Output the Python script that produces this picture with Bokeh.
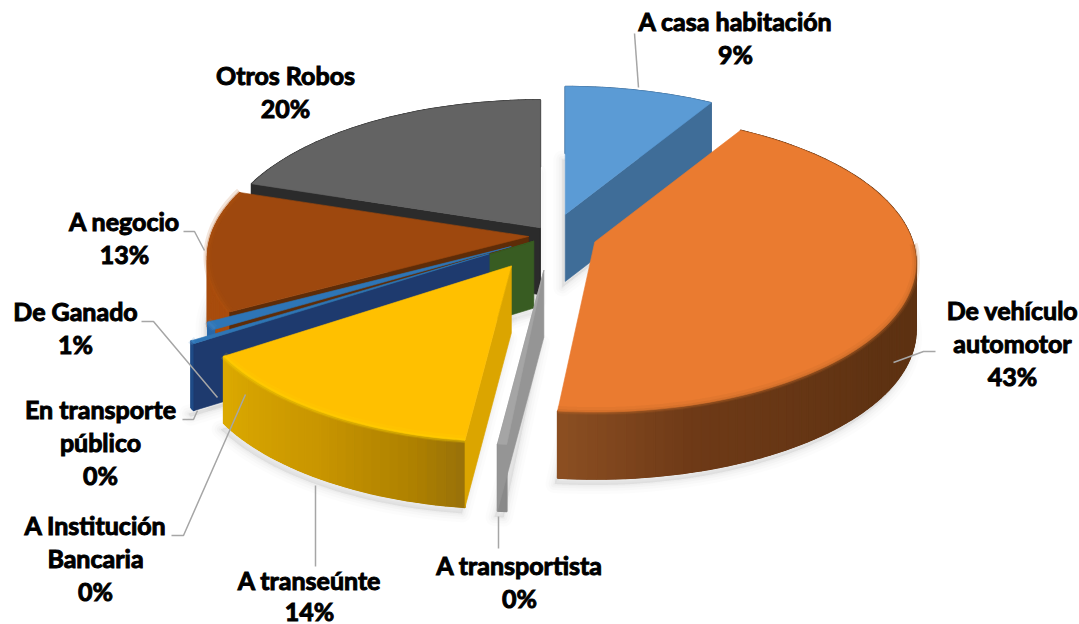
import math
from bokeh.plotting import figure
from bokeh.models import Range1d, ColumnDataSource
from bokeh.core.properties import value
from bokeh.embed import file_html
from bokeh.resources import INLINE

# ---------- data ----------
categories = ["A casa habitación", "De vehículo automotor", "A transportista", "A transeúnte",
              "A Institución Bancaria", "En transporte público", "De Ganado", "A negocio", "Otros Robos"]
shares = [8.6, 43.0, 0.4, 13.7, 0.2, 0.3, 0.8, 13.1, 19.9]
label_lines = [["A casa habitación", "9%"], ["De vehículo", "automotor", "43%"], ["A transportista", "0%"],
               ["A transeúnte", "14%"], ["A Institución", "Bancaria", "0%"], ["En transporte", "público", "0%"],
               ["De Ganado", "1%"], ["A negocio", "13%"], ["Otros Robos", "20%"]]

# ---------- layout and style ----------
W, H = 1079, 624
CX, CY, A, B, K, DEPTH = 552, 235, 318, 146, 0.142, 67
explode = [0.15, 0.14, 0.24, 0.245, 0.07, 0.235, 0.15, 0.075, 0.065]
gain_y = [1, 1, 1.03, 1.035, 1, 1.05, 1, 1, 1]
gain_x = [1, 1, 1, 1.0, 1, 1.02, 1.015, 1, 1]
top_col = ["#5b9bd5", "#ea7b30", "#a5a5a5", "#ffc000", "#385c22", "#2e75b6", "#2e75b6", "#9e480e", "#636363"]
rad_col = ["#3f6d98", "#5e3212", "#959595", "#dba500", "#385c22", "#1e3a6e", "#2e75b6", "#5e2c08", "#2b2b2b"]
side_stops = [
    [(0, "#3f6d98"), (40, "#3f6d98")],
    [(30, "#5e3212"), (125, "#5e3212"), (165, "#6e3a17"), (186, "#8c4f22")],
    [(180, "#8a8a8a"), (190, "#8a8a8a")],
    [(187, "#97700a"), (195, "#ad8000"), (212, "#c89500"), (237, "#dcaa00")],
    [(230, "#385c22"), (240, "#385c22")],
    [(230, "#1e4a86"), (245, "#1e4a86")],
    [(230, "#2a68a8"), (245, "#2a68a8")],
    [(240, "#a84c0d"), (290, "#a84c0d")],
    [(280, "#2b2b2b"), (360, "#2b2b2b")],
]
rim_col = [None, "#b86226", None, "#ffd800", None, "#4a8ccb", "#4a8ccb", "#b0520f", None]
draw_order = [8, 7, 6, 4, 5, 3, 2, 0, 1]
face_angle = {0: "end", 2: "end", 3: "start", 4: "start", 5: "start", 7: "start", 8: "both"}
text_anchor = [(735, 20), (1012, 309), (519, 564), (309, 579), (95, 524), (100, 408), (75, 310), (124, 220), (285, 74)]
line_steps = [33, 33, 33, 31, 33, 33, 33, 33, 33]
leaders = [
    ([634, 638], [33, 87]), ([893, 923, 935], [362, 351, 351]), ([498, 498], [516, 548]),
    ([315, 315], [485, 566]), ([171, 183, 245], [535, 535, 394]), ([182, 193, 197], [419, 419, 410]),
    ([141, 153, 217], [321, 321, 397]), ([183, 194, 204], [231, 231, 250]),
]


def hex_rgb(c):
    return tuple(int(c[i:i + 2], 16) for i in (1, 3, 5))


def shade(stops, th):
    if th <= stops[0][0]:
        return stops[0][1]
    for (t0, c0), (t1, c1) in zip(stops, stops[1:]):
        if th <= t1:
            f = (th - t0) / (t1 - t0)
            a, b = hex_rgb(c0), hex_rgb(c1)
            return "#%02x%02x%02x" % tuple(round(a[i] + (b[i] - a[i]) * f) for i in range(3))
    return stops[-1][1]


def rel(th):
    t = math.radians(th)
    X, Y = math.sin(t), math.cos(t)
    w = 1 + K * Y
    return A * X / w, -B * Y / w


total = sum(shares)
starts, ends, apex = [], [], []
acc = 0.0
for s, e in zip(shares, explode):
    a0 = acc / total * 360
    acc += s
    a1 = acc / total * 360
    mid = math.radians((a0 + a1) / 2)
    starts.append(a0)
    ends.append(a1)
    apex.append((CX + A * e * math.sin(mid), CY - B * e * math.cos(mid)))


def arc(i, n=None):
    a0, a1 = starts[i], ends[i]
    n = n or max(2, int((a1 - a0) / 1.5))
    pts = []
    for j in range(n + 1):
        th = a0 + (a1 - a0) * j / n
        dx, dy = rel(th)
        pts.append((th, apex[i][0] + dx * gain_x[i], apex[i][1] + dy * gain_y[i]))
    return pts


p = figure(width=W, height=H, x_range=Range1d(0, W), y_range=Range1d(H, 0),
           output_backend="svg", toolbar_location=None, min_border=0, outline_line_color=None,
           background_fill_color="white", border_fill_color="white")
p.axis.visible = False
p.grid.visible = False

# soft shadows below the bottom faces
for i in draw_order:
    pts = arc(i)
    xs = [apex[i][0] - 3] + [q[1] - 3 for q in pts]
    ys = [apex[i][1] + DEPTH + 6] + [q[2] + DEPTH + 6 for q in pts]
    for lw, al in [(18, 0.025), (12, 0.03), (7, 0.04), (3, 0.04)]:
        p.patch(xs, ys, fill_color="#808080", fill_alpha=0.03, line_color="#808080",
                line_alpha=al, line_width=lw, line_join="round")

for i in draw_order:
    pts = arc(i)
    ax, ay = apex[i]
    # outer wall: a base colour below the shaded strips, so that no seams show
    base = shade(side_stops[i], (starts[i] + ends[i]) / 2)
    p.patch([q[1] for q in pts] + [q[1] for q in pts[::-1]],
            [q[2] for q in pts] + [q[2] + DEPTH for q in pts[::-1]], fill_color=base, line_color=base)
    qx, qy, qc = [], [], []
    for (t0, x0, y0), (t1, x1, y1) in zip(pts, pts[1:]):
        qx.append([x0, x1, x1, x0])
        qy.append([y0, y1, y1 + DEPTH, y0 + DEPTH])
        qc.append(shade(side_stops[i], (t0 + t1) / 2))
    p.patches("xs", "ys", fill_color="c", line_color="c", line_width=1.5,
              source=ColumnDataSource(dict(xs=qx, ys=qy, c=qc)))
    # flat radial faces
    mode = face_angle.get(i)
    ends_to_draw = []
    if mode in ("start", "both"):
        ends_to_draw.append(pts[0])
    if mode in ("end", "both"):
        ends_to_draw.append(pts[-1])
    for q in ends_to_draw:
        p.patch([ax, q[1], q[1], ax], [ay, q[2], q[2] + DEPTH, ay + DEPTH],
                fill_color=rad_col[i], line_color=rad_col[i], line_width=0.6)
    # top face
    p.patch([ax] + [q[1] for q in pts], [ay] + [q[2] for q in pts],
            fill_color=top_col[i], line_color=top_col[i], line_width=0.6)
    # soft rim highlight
    if rim_col[i]:
        vis = [q for q in pts if 90 < q[0] < 300]
        for lw, al, off in [(8, 0.15, -1), (4, 0.3, 0)]:
            p.line([q[1] for q in vis], [q[2] + off for q in vis], line_color=rim_col[i],
                   line_width=lw, line_alpha=al)

# leader lines
for lx, ly in leaders:
    p.line(lx, ly, line_color="#a6a6a6", line_width=1.5)

# labels
tx, ty, tt = [], [], []
for (ax, ay), step, rows in zip(text_anchor, line_steps, label_lines):
    for j, r in enumerate(rows):
        tx.append(ax)
        ty.append(ay + j * step)
        tt.append(r)
p.text(tx, ty, text=tt, text_font=value("Lato"), text_font_style="bold", text_font_size="25px",
       text_color="#000000", text_outline_color="#000000", text_align="center", text_baseline="middle")

open("out.html", "w").write(file_html(p, INLINE))
